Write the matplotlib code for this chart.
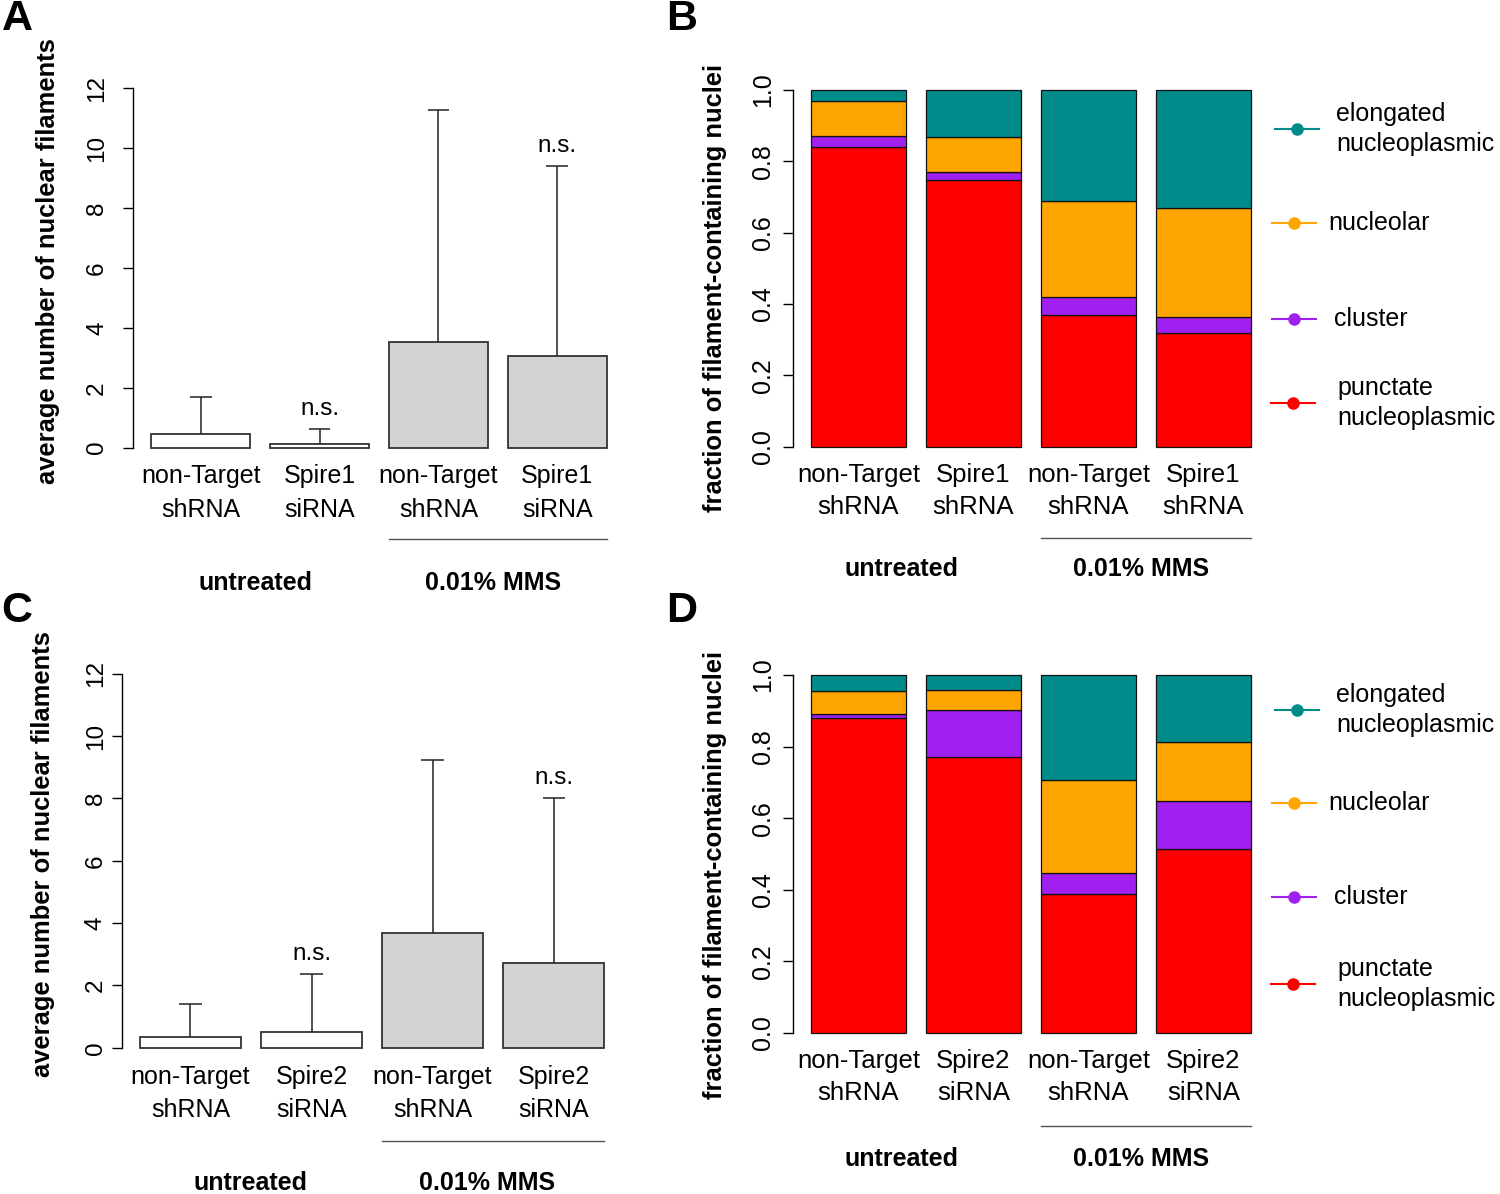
import numpy as np
import matplotlib
matplotlib.use("Agg")
import matplotlib.pyplot as plt
from matplotlib.transforms import blended_transform_factory as blend

plt.rcParams['font.family'] = ['Liberation Sans', 'DejaVu Sans']

# ---------------- data ----------------
cats_A = ["non-Target\nshRNA", "Spire1\nsiRNA", "non-Target\nshRNA", "Spire1\nsiRNA"]
mean_A = [0.44, 0.13, 3.52, 3.06]
upper_A = [1.69, 0.63, 11.29, 9.41]
ns_A = [False, True, False, True]

cats_C = ["non-Target\nshRNA", "Spire2\nsiRNA", "non-Target\nshRNA", "Spire2\nsiRNA"]
mean_C = [0.33, 0.52, 3.69, 2.73]
upper_C = [1.41, 2.38, 9.23, 8.01]
ns_C = [False, True, False, True]

bar_fill = ["white", "white", "#d3d3d3", "#d3d3d3"]

cats_B = ["non-Target\nshRNA", "Spire1\nshRNA", "non-Target\nshRNA", "Spire1\nshRNA"]
cats_D = ["non-Target\nshRNA", "Spire2\nsiRNA", "non-Target\nshRNA", "Spire2\nsiRNA"]

# segments from bottom: punctate, cluster, nucleolar, elongated
punct_B = [0.839, 0.748, 0.368, 0.318]
clust_B = [0.031, 0.021, 0.051, 0.045]
nucleo_B = [0.099, 0.100, 0.269, 0.305]
elong_B = [0.031, 0.131, 0.312, 0.332]

punct_D = [0.881, 0.772, 0.389, 0.513]
clust_D = [0.011, 0.131, 0.057, 0.136]
nucleo_D = [0.062, 0.055, 0.260, 0.165]
elong_D = [0.046, 0.042, 0.294, 0.186]

seg_colors = ["#ff0000", "#a020f0", "#ffa500", "#008b8b"]
legend_names = ["elongated\nnucleoplasmic", "nucleolar", "cluster", "punctate\nnucleoplasmic"]
legend_colors = ["#008b8b", "#ffa500", "#a020f0", "#ff0000"]
legend_y_B = [0.89, 0.626, 0.358, 0.123]
legend_y_D = [0.902, 0.643, 0.381, 0.137]

groups = ["untreated", "0.01% MMS"]

W, H = 1500, 1194
fig = plt.figure(figsize=(W / 100, H / 100), dpi=100)


def px_axes(l, r, t, b):
    return fig.add_axes([l / W, 1 - b / H, (r - l) / W, (b - t) / H])


xpos = 0.7 + 1.2 * np.arange(4)


def common(ax, cats, fs, lsp, ticks, ticklabels, pad, sep_y, grp_x, grp_y):
    ax.set_xlim(0.016, 4.984)
    for s in ["top", "right", "bottom"]:
        ax.spines[s].set_visible(False)
    ax.spines["left"].set_bounds(ticks[0], ticks[-1])
    ax.spines["left"].set_linewidth(1.0)
    ax.set_yticks(ticks)
    ax.set_yticklabels(ticklabels, rotation=90, va="center", fontsize=fs)
    ax.tick_params(axis="y", length=7.2, width=1.0, pad=pad)
    ax.set_xticks(xpos)
    ax.set_xticklabels(cats, fontsize=fs + 0.5, linespacing=lsp)
    ax.tick_params(axis="x", length=0, pad=1.5)
    tr = blend(ax.transData, ax.transAxes)
    ax.plot([xpos[2] - 0.5, xpos[3] + 0.5], [sep_y, sep_y], color="#555555",
            lw=1.0, transform=tr, clip_on=False)
    for g, gx in zip(groups, grp_x):
        ax.text(gx, grp_y, g, transform=tr, ha="center", va="center",
                fontsize=18, fontweight="bold")


def bar_panel(ax, cats, means, uppers, ns, pad, sep_y, grp_x, grp_y):
    ax.set_ylim(-0.48, 12.48)
    ax.bar(xpos, means, width=1.0, color=bar_fill, edgecolor="#333333",
           linewidth=1.3, zorder=2)
    ax.vlines(xpos, means, uppers, color="#222222", lw=1.1, zorder=3)
    ax.hlines(uppers, xpos - 0.11, xpos + 0.11, color="#222222", lw=1.1, zorder=3)
    for x, u, flag in zip(xpos, uppers, ns):
        if flag:
            ax.annotate("n.s.", (x, u), xytext=(0, 14.4), textcoords="offset points",
                        ha="center", va="center", fontsize=17.5)
    ticks = list(range(0, 13, 2))
    common(ax, cats, 17.5, 1.5, ticks, [str(t) for t in ticks], pad, sep_y, grp_x, grp_y)


def stack_panel(ax, cats, segs, legend_y, sep_y, grp_x, grp_y):
    ax.set_ylim(-0.04, 1.04)
    bottom = np.zeros(4)
    for vals, c in zip(segs, seg_colors):
        ax.bar(xpos, vals, width=1.0, bottom=bottom, color=c, edgecolor="#111111",
               linewidth=0.9, zorder=2)
        bottom = bottom + np.array(vals)
    ticks = [0.0, 0.2, 0.4, 0.6, 0.8, 1.0]
    common(ax, cats, 18, 1.4, ticks, ["%.1f" % t for t in ticks], 6, sep_y, grp_x, grp_y)
    tr = blend(ax.transAxes, ax.transData)
    mx = [1.059, 1.053, 1.053, 1.050]
    tx = [1.141, 1.124, 1.137, 1.143]
    for name, c, y, m, t in zip(legend_names, legend_colors, legend_y, mx, tx):
        ax.plot([m - 0.046, m + 0.046], [y, y], color=c, lw=1.5, transform=tr,
                clip_on=False)
        ax.plot([m], [y], "o", color=c, ms=8, transform=tr, clip_on=False)
        ax.text(t, y, name, transform=tr, ha="left", va="center", fontsize=18,
                linespacing=1.3)


axA = px_axes(133, 625, 74, 462)
bar_panel(axA, cats_A, mean_A, upper_A, ns_A, 10.8, -0.198, [1.25, 3.655], -0.312)

axC = px_axes(121.5, 622.6, 658.8, 1062.7)
bar_panel(axC, cats_C, mean_C, upper_C, ns_C, 3.5, -0.194, [1.29, 3.64], -0.298)

axB = px_axes(793, 1269, 75.7, 461)
stack_panel(axB, cats_B, [punct_B, clust_B, nucleo_B, elong_B], legend_y_B,
            -0.200, [1.145, 3.65], -0.280)

axD = px_axes(793, 1269, 660.7, 1047.3)
stack_panel(axD, cats_D, [punct_D, clust_D, nucleo_D, elong_D], legend_y_D,
            -0.203, [1.145, 3.65], -0.288)

# axis titles
ylab_A = "average number of nuclear filaments"
ylab_B = "fraction of filament-containing nuclei"
for (x, y, s) in [(48, 261, ylab_A), (43.5, 854, ylab_A), (715, 288, ylab_B), (715, 875, ylab_B)]:
    fig.text(x / W, 1 - y / H, s, rotation=90, ha="center", va="center",
             fontsize=18.4, fontweight="bold")

# panel letters
for (x, y, s) in [(17, 19, "A"), (682, 19, "B"), (17, 611, "C"), (682, 611, "D")]:
    fig.text(x / W, 1 - y / H, s, ha="center", va="center", fontsize=31,
             fontweight="bold")

fig.savefig("out.png", dpi=100)
